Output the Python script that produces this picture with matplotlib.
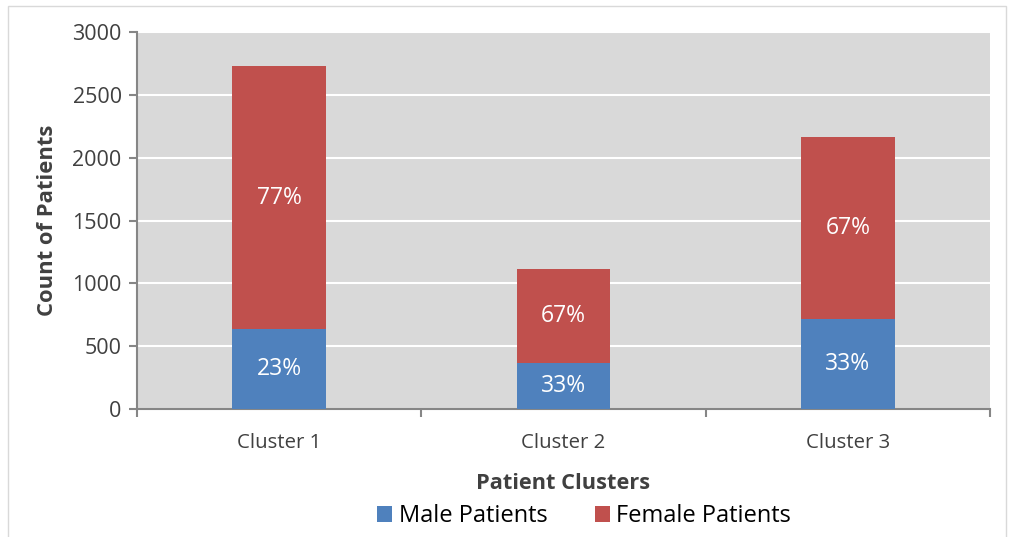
import matplotlib.pyplot as plt
from matplotlib.patches import Rectangle
import numpy as np

clusters = ["Cluster 1", "Cluster 2", "Cluster 3"]
male = [636, 366, 716]
female = [2094, 748, 1449]
yticks = [0, 500, 1000, 1500, 2000, 2500, 3000]

plt.rcParams['font.family'] = ['Open Sans', 'DejaVu Sans']

male_c = "#4F81BD"
female_c = "#C0504D"
axis_c = "#868686"
text_c = "#404040"

fig = plt.figure(figsize=(10.10, 5.37), dpi=100)
ax = fig.add_axes([137 / 1010, 1 - 409 / 537, (990 - 137) / 1010, (409 - 32) / 537])
ax.set_facecolor("#D9D9D9")

x = np.arange(len(clusters))
w = 0.33
ax.bar(x, male, w, color=male_c, label="Male Patients", zorder=3)
ax.bar(x, female, w, bottom=male, color=female_c, label="Female Patients", zorder=3)

for i in range(len(clusters)):
    tot = male[i] + female[i]
    pm = round(100 * male[i] / tot)
    pf = 100 - pm
    ax.text(x[i], male[i] / 2, f"{pm}%", ha="center", va="center",
            color="white", fontsize=16.5, zorder=4)
    ax.text(x[i], male[i] + female[i] / 2, f"{pf}%", ha="center", va="center",
            color="white", fontsize=16.5, zorder=4)

ax.set_xlim(-0.5, len(clusters) - 0.5)
ax.set_ylim(0, 3000)
ax.set_yticks(yticks)
ax.set_yticklabels([str(t) for t in yticks], fontsize=15.5, color=text_c)
ax.yaxis.grid(True, color="white", linewidth=1.5, zorder=1)
ax.set_axisbelow(True)

ax.set_xticks(x)
ax.set_xticklabels(clusters, fontsize=14.7, color=text_c)
ax.set_xticks(np.arange(-0.5, len(clusters)), minor=True)
ax.tick_params(axis="x", which="major", length=0, pad=17)
ax.tick_params(axis="x", which="minor", length=6, color=axis_c, width=1.5)
ax.tick_params(axis="y", length=6, color=axis_c, width=1.5, pad=5)

for s in ["top", "right"]:
    ax.spines[s].set_visible(False)
for s in ["left", "bottom"]:
    ax.spines[s].set_color(axis_c)
    ax.spines[s].set_linewidth(1.5)

ax.set_ylabel("Count of Patients", fontsize=15.8, fontweight="bold", color=text_c, labelpad=10)
ax.set_xlabel("Patient Clusters", fontsize=15.7, fontweight="bold", color=text_c, labelpad=15)

leg = fig.legend(loc="center", bbox_to_anchor=(584 / 1010, 1 - 516 / 537), ncol=2,
                 frameon=False, fontsize=17, handlelength=0.64, handleheight=0.64,
                 columnspacing=2.0, handletextpad=0.26)
for t in leg.get_texts():
    t.set_color("black")

fig.patches.append(Rectangle((8 / 1010, -0.1), (1006 - 8) / 1010, 1 - 6 / 537 + 0.1,
                             transform=fig.transFigure, fill=False,
                             edgecolor="#D9D9D9", linewidth=1))

fig.savefig("out.png", dpi=100)
